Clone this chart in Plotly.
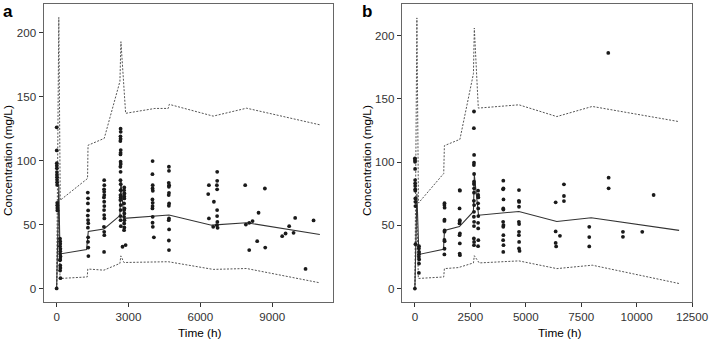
import plotly.graph_objects as go

# ---------------- Panel a data ----------------
a_obs_time = (
    [0, 2, 4, 6, 8, 10, 12, 14, 16, 18, 20, 22, 24, 26, 28, 30]
    + [140, 145, 150, 140, 155, 150, 145, 160, 150, 140, 150, 155, 145, 160]
    + [1300, 1310, 1305, 1315, 1300, 1310, 1320, 1305, 1315, 1310, 1320, 1325]
    + [1985, 1990, 1980, 1985, 1990, 1975, 1985, 1990, 1980, 1985, 1990, 1975, 1985, 1990, 1980]
    + [2670, 2675, 2665, 2670, 2660, 2675, 2670, 2665, 2670, 2675, 2660, 2670, 2665, 2675, 2670, 2665, 2670, 2660, 2675, 2670, 2665, 2670, 2680, 2750]
    + [2823, 2815, 2830, 2820, 2825, 2815, 2830, 2820, 2825, 2815, 2830, 2820, 2825, 2815, 2880]
    + [4006, 4000, 4010, 4005, 4015, 4000, 4010, 4005, 4000, 4010, 4005, 4015, 4060]
    + [4687, 4690, 4680, 4695, 4685, 4690, 4680, 4695, 4685, 4690, 4680, 4695, 4685, 4690]
    + [6357, 6328, 6565, 6357, 6536, 6703, 6703, 6690, 6700, 6700, 6700, 6710, 6720, 6690]
    + [7872, 7900, 8040, 8180, 8040, 8430, 8373, 8694, 8708, 9416, 9557, 9708, 9959, 9891, 10392, 10726]
)
a_obs_conc = (
    [0, 126, 108, 98, 96, 94, 91, 89, 87, 85, 83, 81, 67, 65, 63, 61]
    + [39, 37, 35, 33, 31, 29, 27, 25, 23, 22, 18, 16, 14, 8]
    + [75, 70.5, 66.5, 61, 57, 53.5, 51, 47.5, 40, 36.5, 32, 25.3]
    + [84.7, 80.8, 77.5, 75.6, 73, 71.2, 67.8, 64.4, 61.3, 57.4, 54.8, 48.2, 44.3, 41.7, 28.6]
    + [125, 122.5, 119, 117, 115.3, 108.2, 106.1, 104.8, 99.1, 97.3, 95.2, 91.2, 84.7, 81.6, 76.9, 73, 71.2, 69.1, 65.2, 61.3, 56.6, 53.4, 48.7, 32.6]
    + [79, 76.9, 74.3, 72.2, 70.4, 66.5, 62.6, 61.3, 58.7, 56, 53.4, 50.9, 47.7, 45.6, 33.9]
    + [99.6, 89.4, 80.8, 78.2, 76.4, 69.6, 67, 64.4, 62.6, 56, 51.4, 48.2, 40]
    + [95.2, 92, 82.6, 80.8, 79.5, 74.8, 73, 66.5, 64.7, 54.8, 53.4, 46.2, 37.5, 30]
    + [80.8, 73.8, 67.8, 54.8, 48.2, 91.2, 84.2, 80.8, 77.5, 61.3, 56.6, 52, 47.4, 49.5]
    + [80.8, 50, 30, 52.7, 51.3, 59.2, 37, 78.2, 32, 40.9, 43, 48.7, 55.2, 43.5, 15.3, 53.2]
)
a_med_time = [0, 90, 140, 1250, 1320, 1975, 2642, 2680, 2809, 4690, 6470, 7930, 10989]
a_med_conc = [0, 81, 27, 30.5, 44.5, 46.5, 57, 84.5, 54.8, 57.4, 49.5, 51.4, 42.2]
a_hi_time = [0, 90, 150, 1290, 1310, 1987, 2642, 2684, 2880, 4103, 4658, 4700, 6536, 7929, 10989]
a_hi_conc = [0, 212, 69, 86, 112, 117.4, 162, 193, 137, 140.8, 140.8, 144, 134.8, 141, 128]
a_lo_time = [0, 90, 140, 1277, 1300, 1974, 2642, 2680, 2809, 4660, 6538, 7929, 10989]
a_lo_conc = [0, 62, 7.8, 9, 15.2, 14.3, 19.6, 25.5, 20.3, 20.9, 14.9, 15.6, 4.4]

# ---------------- Panel b data ----------------
b_obs_time = (
    [0, 2, 4, 6, 8, 10, 12, 14, 16, 18, 20, 22, 24, 26]
    + [185, 180, 190, 185, 180, 190, 185, 180]
    + [1335, 1330, 1340, 1335, 1330, 1340, 1335, 1330, 1340, 1335, 1330]
    + [2020, 2030, 2015, 2025, 2020, 2010, 2030, 2015, 2025, 2020, 2030]
    + [2665, 2660, 2670, 2665, 2660, 2670, 2665, 2660, 2670, 2665, 2660, 2670, 2665, 2660, 2670, 2665, 2660, 2670, 2665]
    + [2850, 2855, 2860, 2850, 2855, 2860, 2850, 2855, 2860, 2850]
    + [3987, 3990, 3980, 3995, 3985, 3990, 3980, 3995, 3985, 3990, 3980, 3995, 3985]
    + [4693, 4690, 4700, 4695, 4690, 4700, 4695, 4690, 4700, 4695, 4720]
    + [6348, 6722, 6722, 6722, 6348, 6542, 6348, 6370]
    + [8737, 8737, 7863, 7863, 7863, 9382, 9382, 10253, 10766, 8720]
)
b_obs_conc = (
    [0, 103, 101.7, 100.3, 94.6, 85.8, 83.2, 81.1, 78.5, 77.4, 71.3, 68.6, 65.2, 35.1]
    + [33.5, 31.7, 29, 27.2, 25.1, 23, 19.8, 12.4]
    + [67.5, 66, 64, 54.5, 53.5, 46, 45, 38.5, 37.5, 31.5, 27]
    + [77.9, 77.4, 63.4, 54.1, 52.8, 51.5, 43.6, 42.2, 35.7, 27.7, 26.4]
    + [140, 126.8, 105.7, 99.5, 97.7, 90.6, 84.5, 82.7, 79.3, 75.8, 69.4, 66, 60.7, 56.8, 52.8, 49.4, 39.6, 36.9, 34.3]
    + [77.4, 74, 72.1, 67.4, 63.4, 57.3, 52, 47.6, 38.3, 33.5]
    + [85.3, 79.3, 78.5, 70.5, 63.4, 62.5, 52.8, 50.2, 48.9, 42.2, 38.3, 34.3, 29]
    + [77.9, 69.4, 68.5, 64.7, 52.8, 51, 44.9, 42.2, 36.9, 31.7, 29.8]
    + [68.2, 82.4, 73.2, 69.2, 45.2, 41.7, 36.1, 33.3]
    + [87.7, 79.3, 48.8, 40.7, 33.3, 44.9, 40.9, 44.9, 74, 186.3]
)
b_med_time = [0, 90, 180, 1290, 1335, 2010, 2640, 2680, 2870, 4690, 6400, 7950, 11915]
b_med_conc = [0, 75, 27, 31, 46, 49, 61, 90, 58, 61, 53, 56, 46]
b_hi_time = [0, 90, 160, 1300, 1330, 2030, 2640, 2680, 2860, 4690, 6400, 8000, 11915]
b_hi_conc = [0, 214, 67.6, 91, 113, 118, 170, 206, 142.7, 145.3, 136, 144, 132]
b_lo_time = [0, 90, 155, 1300, 1330, 1957, 2640, 2680, 2900, 4690, 6400, 8000, 11915]
b_lo_conc = [0, 62, 8, 9.2, 15.8, 16.6, 20.3, 26, 20.3, 21.9, 15.8, 18.5, 4]

a_xticks = [0, 3000, 6000, 9000]
b_xticks = [0, 2500, 5000, 7500, 10000, 12500]
y_ticks = [0, 50, 100, 150, 200]

W, H = 709, 343
FONT = "Liberation Sans, Arial, sans-serif"
fig = go.Figure()

def add_panel(xa, ya, t, c, mt, mc, ht, hc, lt, lc):
    fig.add_trace(go.Scatter(x=ht, y=hc, mode="lines", xaxis=xa, yaxis=ya,
                             line=dict(color="#555555", width=1, dash="2px,1.5px"), showlegend=False))
    fig.add_trace(go.Scatter(x=lt, y=lc, mode="lines", xaxis=xa, yaxis=ya,
                             line=dict(color="#555555", width=1, dash="2px,1.5px"), showlegend=False))
    fig.add_trace(go.Scatter(x=mt, y=mc, mode="lines", xaxis=xa, yaxis=ya,
                             line=dict(color="#333333", width=1.1), showlegend=False))
    fig.add_trace(go.Scatter(x=t, y=c, mode="markers", xaxis=xa, yaxis=ya,
                             marker=dict(color="#1a1a1a", size=3.8), showlegend=False))

add_panel("x", "y", a_obs_time, a_obs_conc, a_med_time, a_med_conc, a_hi_time, a_hi_conc, a_lo_time, a_lo_conc)
add_panel("x2", "y2", b_obs_time, b_obs_conc, b_med_time, b_med_conc, b_hi_time, b_hi_conc, b_lo_time, b_lo_conc)

ydom = [(343 - 302) / H, (343 - 4) / H]
axis_common = dict(showgrid=False, zeroline=False, showline=True, mirror=True, automargin=False,
                   linecolor="#666666", linewidth=1, ticks="outside", ticklen=4,
                   tickcolor="#333333", tickwidth=1,
                   tickfont=dict(family=FONT, size=11.6, color="#333333"))

fig.update_layout(
    width=W, height=H,
    margin=dict(l=0, r=0, t=0, b=0, autoexpand=False),
    paper_bgcolor="white", plot_bgcolor="white",
    xaxis=dict(domain=[43.5 / W, 333 / W], range=[-549, 11538], tickvals=a_xticks,
               ticktext=[str(v) for v in a_xticks], anchor="y", **axis_common),
    yaxis=dict(domain=ydom, range=[-10.6, 222.5], tickvals=y_ticks,
               ticktext=[str(v) for v in y_ticks], anchor="x", **axis_common),
    xaxis2=dict(domain=[401.7 / W, 692.3 / W], range=[-595, 12510], tickvals=b_xticks,
                ticktext=[str(v) for v in b_xticks], anchor="y2", **axis_common),
    yaxis2=dict(domain=ydom, range=[-10.6, 225], tickvals=y_ticks,
                ticktext=[str(v) for v in y_ticks], anchor="x2", **axis_common),
)

ann = []
def text(x, y, s, size=11.8, bold=False, angle=0):
    ann.append(dict(x=x / W, y=1 - y / H, xref="paper", yref="paper", text=("<b>%s</b>" % s) if bold else s,
                    showarrow=False, textangle=angle, xanchor="center", yanchor="middle",
                    font=dict(family=FONT, size=size, color="black")))

text(8, 12, "a", size=17, bold=True)
text(367, 12, "b", size=17, bold=True)
text(8, 161, "Concentration (mg/L)", angle=-90)
text(367, 161, "Concentration (mg/L)", angle=-90)
text(200, 333, "Time (h)")
text(560, 333, "Time (h)")
fig.update_layout(annotations=ann)

fig.write_html("out.html", config={"displayModeBar": False},
               post_script="document.body.style.margin='0px';")
